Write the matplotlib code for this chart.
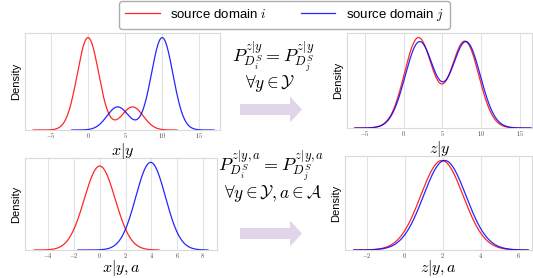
import numpy as np
import matplotlib
matplotlib.use("Agg")
import matplotlib.pyplot as plt
from matplotlib.patches import FancyArrow

plt.rcParams['font.family'] = ['Liberation Sans', 'DejaVu Sans']
plt.rcParams['mathtext.fontset'] = 'cm'

# gaussian mixture parameters: (means, sds, weights, x-range)
tl_red = dict(mu=[0, 6], sd=[1.45, 1.45], w=[0.8, 0.2], rng=[-7.4, 12.0])
tl_blue = dict(mu=[4, 10], sd=[1.45, 1.45], w=[0.2, 0.8], rng=[-2.2, 17.0])
tr_red = dict(mu=[1.9, 7.9], sd=[1.8, 1.8], w=[0.51, 0.49], rng=[-6.3, 16.3])
tr_blue = dict(mu=[2.05, 8.05], sd=[1.85, 1.85], w=[0.5, 0.5], rng=[-6.3, 16.5])
bl_red = dict(mu=[0.0], sd=[1.2], w=[1.0], rng=[-5.1, 4.6])
bl_blue = dict(mu=[3.95], sd=[1.15], w=[1.0], rng=[-1.7, 8.4])
br_red = dict(mu=[1.95], sd=[1.12], w=[1.0], rng=[-2.7, 6.5])
br_blue = dict(mu=[2.1], sd=[1.12], w=[1.0], rng=[-2.7, 6.5])

tl_ticks = [-5, 0, 5, 10, 15]
tr_ticks = [-5, 0, 5, 10, 15]
bl_ticks = [-4, -2, 0, 2, 4, 6, 8]
br_ticks = [-2, 0, 2, 4, 6]

tl_xlim = [-8.5, 17.8]
tr_xlim = [-7.3, 16.55]
bl_xlim = [-5.8, 9.1]
br_xlim = [-3.16, 6.7]

labels = ["source domain $i$", "source domain $j$"]
xlabels = ["$x|y$", "$z|y$", "$x|y,a$", "$z|y,a$"]
eq_top = r"$P^{z|y}_{D_i^S} = P^{z|y}_{D_j^S}$"
cond_top = r"$\forall y \in \mathcal{Y}$"
eq_bot = r"$P^{z|y,a}_{D_i^S} = P^{z|y,a}_{D_j^S}$"
cond_bot = r"$\forall y \in \mathcal{Y}, a \in \mathcal{A}$"


def density(p):
    x = np.linspace(p['rng'][0], p['rng'][1], 400)
    y = np.zeros_like(x)
    for m, s, w in zip(p['mu'], p['sd'], p['w']):
        y += w * np.exp(-0.5 * ((x - m) / s) ** 2) / (s * np.sqrt(2 * np.pi))
    return x, y


def panel(rect, red, blue, ticks, xlim):
    ax = fig.add_axes(rect)
    xr, yr = density(red)
    xb, yb = density(blue)
    lr, = ax.plot(xr, yr, color='#ff0000', lw=0.9, alpha=0.85)
    lb, = ax.plot(xb, yb, color='#0000ff', lw=0.9, alpha=0.85)
    ax.set_xlim(xlim)
    ax.set_ylim(0, max(yr.max(), yb.max()) * 1.05)
    ax.set_yticks([])
    ax.set_xticks(ticks, labels=[f"${t}$" for t in ticks])
    ax.tick_params(axis='x', length=0, labelsize=4.5, pad=0.8, colors='#444444')
    ax.grid(axis='x', color='#e3e3e3', lw=0.8)
    ax.set_axisbelow(True)
    for s in ax.spines.values():
        s.set_color('#dadada')
        s.set_linewidth(0.8)
    ax.set_ylabel("Density", fontsize=8, labelpad=3)
    return lr, lb


W, H = 533, 278
fig = plt.figure(figsize=(W / 100, H / 100), dpi=100)

def r(l, t, rgt, b):
    return [l / W, 1 - b / H, (rgt - l) / W, (b - t) / H]

lr, lb = panel(r(25, 33, 220, 130), tl_red, tl_blue, tl_ticks, tl_xlim)
panel(r(347, 33, 532, 128), tr_red, tr_blue, tr_ticks, tr_xlim)
panel(r(25, 158, 217, 250), bl_red, bl_blue, bl_ticks, bl_xlim)
panel(r(345, 156, 532, 250), br_red, br_blue, br_ticks, br_xlim)

# axis titles drawn on the figure so they sit above the lower panels (baseline y)
xl_pos = [(122.5, 155), (439.5, 153), (121, 272.5), (438.5, 272.5)]
for txt, (px, py) in zip(xlabels, xl_pos):
    fig.text(px / W, 1 - py / H, txt, fontsize=11.5, ha='center', va='baseline', zorder=10)

fig.legend([lr, lb], labels, loc='center', bbox_to_anchor=(284.5 / W, 1 - 15 / H),
           ncol=2, fontsize=9.5, handlelength=2.6, columnspacing=2.6,
           frameon=True, fancybox=True, shadow=False, edgecolor='#999999',
           borderpad=0.45)

fig.text(273 / W, 1 - 57 / H, eq_top, fontsize=13, ha='center', va='center')
fig.text(270 / W, 1 - 84 / H, cond_top, fontsize=12.5, ha='center', va='center')
fig.text(271 / W, 1 - 166 / H, eq_bot, fontsize=13, ha='center', va='center')
fig.text(273 / W, 1 - 193 / H, cond_bot, fontsize=12.5, ha='center', va='center')

arrow_col = '#e0d5e9'
for yc in [109.5, 233.5]:
    fig.patches.append(FancyArrow(240 / W, 1 - yc / H, 62 / W, 0, width=11 / H,
                                  head_width=26 / H, head_length=12 / W,
                                  length_includes_head=True, color=arrow_col,
                                  lw=0, transform=fig.transFigure, figure=fig))

fig.savefig("out.png", dpi=100)
